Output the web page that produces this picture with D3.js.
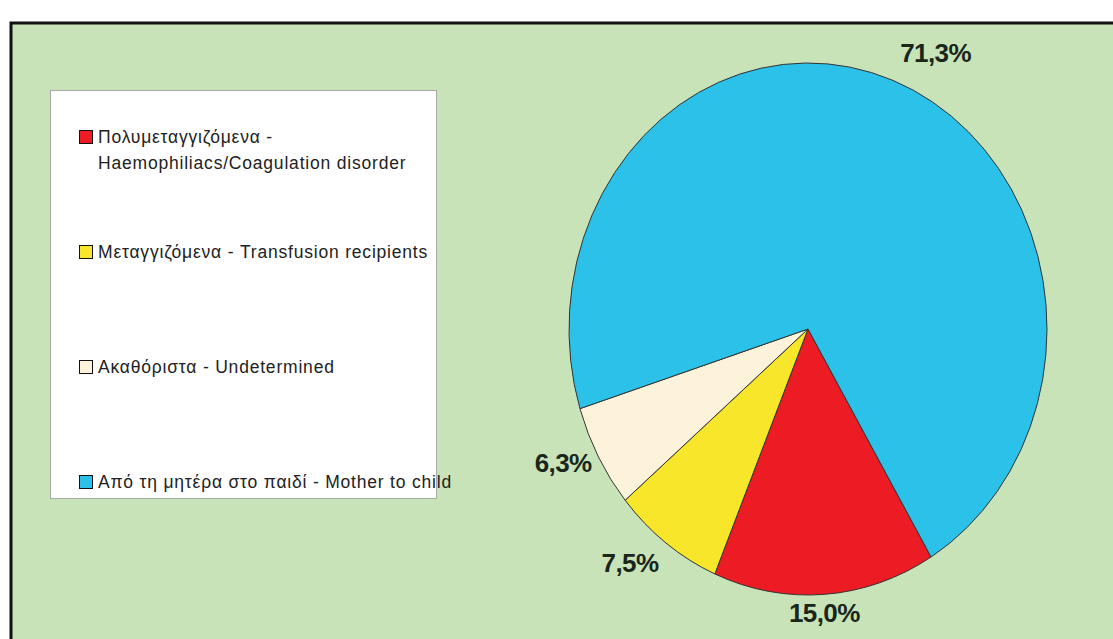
<!DOCTYPE html>
<html>
<head>
<meta charset="utf-8">
<script src="https://cdn.jsdelivr.net/npm/d3@7"></script>
<style>
  body { margin: 0; background: #fff; }
  svg { display: block; }
</style>
</head>
<body>
<svg id="chart" width="1113" height="639"></svg>
<script>
// data
var categories = ["Πολυμεταγγιζόμενα - Haemophiliacs/Coagulation disorder",
                  "Μεταγγιζόμενα - Transfusion recipients",
                  "Ακαθόριστα - Undetermined",
                  "Από τη μητέρα στο παιδί - Mother to child"];
var legendLines = [["Πολυμεταγγιζόμενα -", "Haemophiliacs/Coagulation disorder"],
                   ["Μεταγγιζόμενα - Transfusion recipients"],
                   ["Ακαθόριστα - Undetermined"],
                   ["Από τη μητέρα στο παιδί - Mother to child"]];
var values = [15.0, 7.5, 6.3, 71.3];
var labels = ["15,0%", "7,5%", "6,3%", "71,3%"];
var colors = ["#ed1c24", "#f7e629", "#fcf3da", "#2bc1e9"];

///////////// layout /////////////
var svg = d3.select("#chart");
var cx = 808, cy = 329, rx = 239, ry = 266;
var startDeg = 149;
// extra shift for labels, by slice index (Excel puts them by its own rules)
var labelNudge = [[-2, 4], [-23, 8], [-16, -1], [35, -15]];

// outer frame
svg.append("rect")
  .attr("x", 11).attr("y", 23)
  .attr("width", 1120).attr("height", 640)
  .attr("fill", "#c9e3b9")
  .attr("stroke", "#111").attr("stroke-width", 3);

// legend
var legend = svg.append("g");
legend.append("rect")
  .attr("x", 50.5).attr("y", 90.5)
  .attr("width", 386).attr("height", 408)
  .attr("fill", "#fff")
  .attr("stroke", "#a8a8a8").attr("stroke-width", 1);

var itemY = d3.scalePoint().domain(d3.range(categories.length)).range([137, 482]);

var item = legend.selectAll("g.item")
  .data(categories)
  .enter().append("g")
  .attr("class", "item")
  .attr("transform", function(d, i) { return "translate(0," + itemY(i) + ")"; });

item.append("rect")
  .attr("x", 79.5).attr("y", -6.5)
  .attr("width", 13).attr("height", 13)
  .attr("fill", function(d, i) { return colors[i]; })
  .attr("stroke", "#111").attr("stroke-width", 1);

item.append("text")
  .attr("x", 98)
  .attr("y", 0)
  .attr("font-family", "Liberation Sans, Arial, sans-serif")
  .attr("font-size", 17.5)
  .attr("letter-spacing", 0.8)
  .attr("fill", "#222")
  .each(function(d, i) {
    var t = d3.select(this);
    legendLines[i].forEach(function(line, j) {
      t.append("tspan")
        .attr("x", 98)
        .attr("dy", j == 0 ? "0.35em" : "1.5em")
        .text(line);
    });
  });

// pie
var pie = d3.pie().sort(null).value(function(d) { return d; })
  .startAngle(startDeg * Math.PI / 180)
  .endAngle(startDeg * Math.PI / 180 + 2 * Math.PI);
var arcs = pie(values);
var arc = d3.arc().innerRadius(0).outerRadius(ry);

var pieG = svg.append("g")
  .attr("transform", "translate(" + cx + "," + cy + ") scale(" + (rx / ry) + ",1)");

pieG.selectAll("path")
  .data(arcs)
  .enter().append("path")
  .attr("d", arc)
  .attr("fill", function(d, i) { return colors[i]; })
  .attr("stroke", "#333")
  .attr("stroke-width", 1)
  .attr("vector-effect", "non-scaling-stroke");

// labels outside the edge
svg.selectAll("text.lbl")
  .data(arcs)
  .enter().append("text")
  .attr("class", "lbl")
  .attr("x", function(d, i) {
    var a = (d.startAngle + d.endAngle) / 2;
    return cx + (rx + 22) * Math.sin(a) + labelNudge[i][0];
  })
  .attr("y", function(d, i) {
    var a = (d.startAngle + d.endAngle) / 2;
    return cy - (ry + 14) * Math.cos(a) + labelNudge[i][1];
  })
  .attr("dy", "0.36em")
  .attr("text-anchor", "middle")
  .attr("font-family", "Liberation Sans, Arial, sans-serif")
  .attr("font-weight", "bold")
  .attr("font-size", 26)
  .attr("letter-spacing", -0.6)
  .attr("fill", "#1a261a")
  .text(function(d, i) { return labels[i]; });
</script>
</body>
</html>
